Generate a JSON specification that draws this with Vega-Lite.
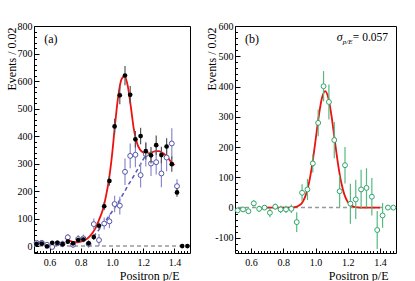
{
  "$schema": "https://vega.github.io/schema/vega-lite/v6.json",
  "padding": {"left": 4, "top": 20, "right": 5, "bottom": 5},
  "spacing": 12,
  "config": {
    "font": "Liberation Serif",
    "view": {"stroke": "black", "strokeWidth": 1},
    "axis": {
      "domain": false, "grid": false,
      "labelFont": "Liberation Serif", "labelFontSize": 10, "labelColor": "black",
      "titleFont": "Liberation Serif", "titleFontSize": 12, "titleFontWeight": "normal", "titleColor": "black",
      "tickColor": "black", "tickWidth": 1
    }
  },
  "datasets": {
    "zero": [{"v": 0}],
    "black": [
      {"pe": 0.5167, "n": 8, "err": 6}, {"pe": 0.55, "n": 9, "err": 6}, {"pe": 0.5833, "n": -1, "err": 5},
      {"pe": 0.6167, "n": 12, "err": 6}, {"pe": 0.65, "n": 12, "err": 6}, {"pe": 0.6833, "n": 7, "err": 6},
      {"pe": 0.7167, "n": 16, "err": 7}, {"pe": 0.75, "n": 10, "err": 7}, {"pe": 0.7833, "n": 22, "err": 8},
      {"pe": 0.8167, "n": 24, "err": 8}, {"pe": 0.85, "n": 10, "err": 8}, {"pe": 0.8833, "n": 33, "err": 10},
      {"pe": 0.9167, "n": 74, "err": 12}, {"pe": 0.95, "n": 145, "err": 15}, {"pe": 0.9833, "n": 237, "err": 18},
      {"pe": 1.0167, "n": 435, "err": 28}, {"pe": 1.05, "n": 548, "err": 32}, {"pe": 1.0833, "n": 620, "err": 35},
      {"pe": 1.1167, "n": 550, "err": 32}, {"pe": 1.15, "n": 388, "err": 30}, {"pe": 1.1833, "n": 400, "err": 30},
      {"pe": 1.2167, "n": 345, "err": 30}, {"pe": 1.25, "n": 330, "err": 30}, {"pe": 1.2833, "n": 367, "err": 35},
      {"pe": 1.3167, "n": 331, "err": 30}, {"pe": 1.35, "n": 362, "err": 30}, {"pe": 1.3833, "n": 298, "err": 28},
      {"pe": 1.4167, "n": 195, "err": 16}, {"pe": 1.45, "n": 0, "err": 3}, {"pe": 1.4833, "n": 0, "err": 3}
    ],
    "open": [
      {"pe": 0.5167, "n": 12, "err": 10}, {"pe": 0.55, "n": 12, "err": 10}, {"pe": 0.5833, "n": 5, "err": 10},
      {"pe": 0.6167, "n": -3, "err": 10}, {"pe": 0.65, "n": 10, "err": 10}, {"pe": 0.6833, "n": 8, "err": 12},
      {"pe": 0.7167, "n": 32, "err": 12}, {"pe": 0.75, "n": 5, "err": 12}, {"pe": 0.7833, "n": 26, "err": 14},
      {"pe": 0.8167, "n": 28, "err": 14}, {"pe": 0.85, "n": 8, "err": 14}, {"pe": 0.8833, "n": 80, "err": 20},
      {"pe": 0.9167, "n": 22, "err": 22}, {"pe": 0.95, "n": 82, "err": 22}, {"pe": 0.9833, "n": 90, "err": 25},
      {"pe": 1.0167, "n": 153, "err": 30}, {"pe": 1.05, "n": 147, "err": 32}, {"pe": 1.0833, "n": 270, "err": 48},
      {"pe": 1.1167, "n": 328, "err": 45}, {"pe": 1.15, "n": 332, "err": 45}, {"pe": 1.1833, "n": 258, "err": 45},
      {"pe": 1.2167, "n": 334, "err": 45}, {"pe": 1.25, "n": 300, "err": 45}, {"pe": 1.2833, "n": 305, "err": 45},
      {"pe": 1.3167, "n": 264, "err": 50}, {"pe": 1.35, "n": 322, "err": 50}, {"pe": 1.3833, "n": 373, "err": 55},
      {"pe": 1.4167, "n": 218, "err": 25}
    ],
    "fitA": [
      {"pe": 0.70, "n": 30}, {"pe": 0.72, "n": 22}, {"pe": 0.74, "n": 17}, {"pe": 0.76, "n": 14}, {"pe": 0.78, "n": 14},
      {"pe": 0.80, "n": 16}, {"pe": 0.82, "n": 20}, {"pe": 0.84, "n": 27}, {"pe": 0.86, "n": 37}, {"pe": 0.88, "n": 52},
      {"pe": 0.90, "n": 72}, {"pe": 0.92, "n": 100}, {"pe": 0.94, "n": 130}, {"pe": 0.96, "n": 178}, {"pe": 0.98, "n": 240},
      {"pe": 1.00, "n": 330}, {"pe": 1.02, "n": 445}, {"pe": 1.04, "n": 545}, {"pe": 1.06, "n": 605}, {"pe": 1.08, "n": 618},
      {"pe": 1.10, "n": 585}, {"pe": 1.12, "n": 510}, {"pe": 1.14, "n": 425}, {"pe": 1.16, "n": 375}, {"pe": 1.18, "n": 350},
      {"pe": 1.20, "n": 340}, {"pe": 1.22, "n": 337}, {"pe": 1.24, "n": 338}, {"pe": 1.26, "n": 342}, {"pe": 1.28, "n": 345},
      {"pe": 1.30, "n": 345}, {"pe": 1.32, "n": 340}, {"pe": 1.34, "n": 332}, {"pe": 1.36, "n": 320}, {"pe": 1.38, "n": 305},
      {"pe": 1.40, "n": 295}
    ],
    "bkgA": [
      {"pe": 0.88, "n": 35}, {"pe": 0.90, "n": 48}, {"pe": 0.95, "n": 85}, {"pe": 1.00, "n": 125}, {"pe": 1.05, "n": 168},
      {"pe": 1.10, "n": 218}, {"pe": 1.15, "n": 265}, {"pe": 1.20, "n": 315}, {"pe": 1.22, "n": 335}
    ],
    "green": [
      {"pe": 0.5167, "n": -9, "err": 8}, {"pe": 0.55, "n": -6, "err": 8}, {"pe": 0.5833, "n": -12, "err": 8},
      {"pe": 0.6167, "n": 14, "err": 10}, {"pe": 0.65, "n": -4, "err": 10}, {"pe": 0.6833, "n": 0, "err": 8},
      {"pe": 0.7167, "n": -17, "err": 15}, {"pe": 0.75, "n": 3, "err": 10}, {"pe": 0.7833, "n": -6, "err": 12},
      {"pe": 0.8167, "n": -6, "err": 12}, {"pe": 0.85, "n": -4, "err": 14}, {"pe": 0.8833, "n": -48, "err": 33},
      {"pe": 0.9167, "n": 49, "err": 28}, {"pe": 0.95, "n": 60, "err": 35}, {"pe": 0.9833, "n": 146, "err": 30},
      {"pe": 1.0167, "n": 280, "err": 44}, {"pe": 1.05, "n": 401, "err": 50}, {"pe": 1.0833, "n": 349, "err": 58},
      {"pe": 1.1167, "n": 223, "err": 60}, {"pe": 1.15, "n": 54, "err": 53}, {"pe": 1.1833, "n": 140, "err": 60},
      {"pe": 1.2167, "n": 13, "err": 66}, {"pe": 1.25, "n": 27, "err": 65}, {"pe": 1.2833, "n": 60, "err": 65},
      {"pe": 1.3167, "n": 65, "err": 65}, {"pe": 1.35, "n": 36, "err": 62}, {"pe": 1.3833, "n": -74, "err": 63},
      {"pe": 1.4167, "n": -26, "err": 41}, {"pe": 1.45, "n": 0, "err": 4}, {"pe": 1.4833, "n": 0, "err": 4}
    ],
    "fitB": [
      {"pe": 0.70, "n": 0}, {"pe": 0.80, "n": 0}, {"pe": 0.84, "n": 0.2}, {"pe": 0.86, "n": 0.8}, {"pe": 0.88, "n": 2.6},
      {"pe": 0.90, "n": 7.5}, {"pe": 0.92, "n": 18.8}, {"pe": 0.94, "n": 42}, {"pe": 0.96, "n": 83}, {"pe": 0.98, "n": 144},
      {"pe": 1.00, "n": 221}, {"pe": 1.02, "n": 301}, {"pe": 1.04, "n": 362}, {"pe": 1.06, "n": 385}, {"pe": 1.08, "n": 362},
      {"pe": 1.10, "n": 301}, {"pe": 1.12, "n": 221}, {"pe": 1.14, "n": 144}, {"pe": 1.16, "n": 83}, {"pe": 1.18, "n": 42},
      {"pe": 1.20, "n": 19}, {"pe": 1.22, "n": 7.5}, {"pe": 1.24, "n": 2.6}, {"pe": 1.26, "n": 0.8}, {"pe": 1.28, "n": 0.2},
      {"pe": 1.32, "n": 0}, {"pe": 1.40, "n": 0}
    ],
    "labA": [{"pe": 0.565, "n": 738, "t": "(a)"}],
    "labB": [{"pe": 0.562, "n": 543, "t": "(b)"}],
    "sig": [{"pe": 1.132, "n": 549, "t": "σ"}],
    "sigSub": [{"pe": 1.1696, "n": 539, "t": "p/E"}],
    "sigVal": [{"pe": 1.2317, "n": 549, "t": "= 0.057"}]
  },
  "hconcat": [
    {
      "width": 156, "height": 227,
      "resolve": {"axis": {"x": "independent", "y": "independent"}},
      "layer": [
        {
          "data": {"name": "zero"},
          "mark": {"type": "rule", "color": "#999999", "strokeDash": [4, 3], "strokeWidth": 1.5},
          "encoding": {
            "y": {"field": "v", "type": "quantitative", "scale": {"domain": [-25, 800], "nice": false, "zero": false},
              "axis": {"orient": "left", "values": [-20,20,40,60,80,120,140,160,180,220,240,260,280,320,340,360,380,420,440,460,480,520,540,560,580,620,640,660,680,720,740,760,780], "labels": false, "tickSize": -2.5, "title": null}}
          }
        },
        {
          "data": {"name": "bkgA"},
          "mark": {"type": "line", "color": "#5555bb", "strokeDash": [4, 3], "strokeWidth": 1.5, "interpolate": "monotone"},
          "encoding": {
            "x": {"field": "pe", "type": "quantitative", "scale": {"domain": [0.5, 1.5], "nice": false, "zero": false},
              "axis": {"orient": "bottom", "values": [0.52,0.54,0.56,0.58,0.62,0.64,0.66,0.68,0.7,0.72,0.74,0.76,0.78,0.82,0.84,0.86,0.88,0.9,0.92,0.94,0.96,0.98,1.02,1.04,1.06,1.08,1.1,1.12,1.14,1.16,1.18,1.22,1.24,1.26,1.28,1.3,1.32,1.34,1.36,1.38,1.42,1.44,1.46,1.48], "labels": false, "tickSize": -2.5, "title": null}},
            "y": {"field": "n", "type": "quantitative", "scale": {"domain": [-25, 800], "nice": false, "zero": false}, "axis": null}
          }
        },
        {
          "data": {"name": "fitA"},
          "mark": {"type": "line", "color": "#ee1111", "strokeWidth": 1.8, "interpolate": "monotone"},
          "encoding": {
            "x": {"field": "pe", "type": "quantitative", "scale": {"domain": [0.5, 1.5], "nice": false, "zero": false}, "axis": null},
            "y": {"field": "n", "type": "quantitative", "scale": {"domain": [-25, 800], "nice": false, "zero": false}, "axis": null}
          }
        },
        {
          "data": {"name": "open"},
          "mark": {"type": "errorbar", "color": "#8a8acc", "thickness": 1.2},
          "encoding": {
            "x": {"field": "pe", "type": "quantitative", "scale": {"domain": [0.5, 1.5], "nice": false, "zero": false}, "axis": null},
            "y": {"field": "n", "type": "quantitative", "scale": {"domain": [-25, 800], "nice": false, "zero": false}, "axis": null},
            "yError": {"field": "err"}
          }
        },
        {
          "data": {"name": "open"},
          "mark": {"type": "point", "filled": false, "fill": "white", "stroke": "#5555aa", "strokeWidth": 1, "size": 24, "opacity": 1},
          "encoding": {
            "x": {"field": "pe", "type": "quantitative", "scale": {"domain": [0.5, 1.5], "nice": false, "zero": false}, "axis": null},
            "y": {"field": "n", "type": "quantitative", "scale": {"domain": [-25, 800], "nice": false, "zero": false}, "axis": null}
          }
        },
        {
          "data": {"name": "black"},
          "mark": {"type": "errorbar", "color": "#555555", "thickness": 1.2},
          "encoding": {
            "x": {"field": "pe", "type": "quantitative", "scale": {"domain": [0.5, 1.5], "nice": false, "zero": false}, "axis": null},
            "y": {"field": "n", "type": "quantitative", "scale": {"domain": [-25, 800], "nice": false, "zero": false}, "axis": null},
            "yError": {"field": "err"}
          }
        },
        {
          "data": {"name": "black"},
          "mark": {"type": "point", "filled": true, "color": "black", "size": 22, "opacity": 1},
          "encoding": {
            "x": {"field": "pe", "type": "quantitative", "scale": {"domain": [0.5, 1.5], "nice": false, "zero": false},
              "axis": {"orient": "bottom", "values": [0.6, 0.8, 1.0, 1.2, 1.4], "format": ".1f", "tickSize": -5, "labelPadding": 9,
                "title": "Positron p/E", "titleX": 145, "titleY": 26, "titleAlign": "right", "titleBaseline": "alphabetic"}},
            "y": {"field": "n", "type": "quantitative", "scale": {"domain": [-25, 800], "nice": false, "zero": false},
              "axis": {"orient": "left", "values": [0, 100, 200, 300, 400, 500, 600, 700, 800], "tickSize": -5, "labelPadding": 7,
                "title": "Events / 0.02", "titleX": -23, "titleY": 1, "titleAngle": -90, "titleAlign": "right", "titleBaseline": "middle"}}
          }
        },
        {
          "data": {"name": "labA"},
          "mark": {"type": "text", "align": "left", "baseline": "alphabetic", "fontSize": 12, "font": "Liberation Serif", "color": "black"},
          "encoding": {
            "x": {"field": "pe", "type": "quantitative", "scale": {"domain": [0.5, 1.5], "nice": false, "zero": false}, "axis": null},
            "y": {"field": "n", "type": "quantitative", "scale": {"domain": [-25, 800], "nice": false, "zero": false}, "axis": null},
            "text": {"field": "t"}
          }
        }
      ]
    },
    {
      "width": 161, "height": 227,
      "resolve": {"axis": {"x": "independent", "y": "independent"}},
      "layer": [
        {
          "data": {"name": "zero"},
          "mark": {"type": "rule", "color": "#999999", "strokeDash": [4, 3], "strokeWidth": 1.5},
          "encoding": {
            "y": {"field": "v", "type": "quantitative", "scale": {"domain": [-150, 600], "nice": false, "zero": false},
              "axis": {"orient": "left", "values": [-140,-120,-80,-60,-40,-20,20,40,60,80,120,140,160,180,220,240,260,280,320,340,360,380,420,440,460,480,520,540,560,580], "labels": false, "tickSize": -2.5, "title": null}}
          }
        },
        {
          "data": {"name": "fitB"},
          "mark": {"type": "line", "color": "#ee1111", "strokeWidth": 1.8, "interpolate": "monotone"},
          "encoding": {
            "x": {"field": "pe", "type": "quantitative", "scale": {"domain": [0.5, 1.5], "nice": false, "zero": false},
              "axis": {"orient": "bottom", "values": [0.52,0.54,0.56,0.58,0.62,0.64,0.66,0.68,0.7,0.72,0.74,0.76,0.78,0.82,0.84,0.86,0.88,0.9,0.92,0.94,0.96,0.98,1.02,1.04,1.06,1.08,1.1,1.12,1.14,1.16,1.18,1.22,1.24,1.26,1.28,1.3,1.32,1.34,1.36,1.38,1.42,1.44,1.46,1.48], "labels": false, "tickSize": -2.5, "title": null}},
            "y": {"field": "n", "type": "quantitative", "scale": {"domain": [-150, 600], "nice": false, "zero": false}, "axis": null}
          }
        },
        {
          "data": {"name": "green"},
          "mark": {"type": "errorbar", "color": "#55bb80", "thickness": 1.2},
          "encoding": {
            "x": {"field": "pe", "type": "quantitative", "scale": {"domain": [0.5, 1.5], "nice": false, "zero": false}, "axis": null},
            "y": {"field": "n", "type": "quantitative", "scale": {"domain": [-150, 600], "nice": false, "zero": false}, "axis": null},
            "yError": {"field": "err"}
          }
        },
        {
          "data": {"name": "green"},
          "mark": {"type": "point", "filled": false, "fill": "white", "stroke": "#2ea86a", "strokeWidth": 1, "size": 24, "opacity": 1},
          "encoding": {
            "x": {"field": "pe", "type": "quantitative", "scale": {"domain": [0.5, 1.5], "nice": false, "zero": false},
              "axis": {"orient": "bottom", "values": [0.6, 0.8, 1.0, 1.2, 1.4], "format": ".1f", "tickSize": -5, "labelPadding": 9,
                "title": "Positron p/E", "titleX": 153, "titleY": 26, "titleAlign": "right", "titleBaseline": "alphabetic"}},
            "y": {"field": "n", "type": "quantitative", "scale": {"domain": [-150, 600], "nice": false, "zero": false},
              "axis": {"orient": "left", "values": [-100, 0, 100, 200, 300, 400, 500, 600], "tickSize": -5, "labelPadding": 7,
                "labelExpr": "datum.value < 0 ? '-' + abs(datum.value) : datum.label",
                "title": "Events / 0.02", "titleX": -24, "titleY": 1, "titleAngle": -90, "titleAlign": "right", "titleBaseline": "middle"}}
          }
        },
        {
          "data": {"name": "labB"},
          "mark": {"type": "text", "align": "left", "baseline": "alphabetic", "fontSize": 12, "font": "Liberation Serif", "color": "black"},
          "encoding": {
            "x": {"field": "pe", "type": "quantitative", "scale": {"domain": [0.5, 1.5], "nice": false, "zero": false}, "axis": null},
            "y": {"field": "n", "type": "quantitative", "scale": {"domain": [-150, 600], "nice": false, "zero": false}, "axis": null},
            "text": {"field": "t"}
          }
        },
        {
          "data": {"name": "sig"},
          "mark": {"type": "text", "align": "left", "baseline": "alphabetic", "fontSize": 12, "fontStyle": "italic", "font": "Liberation Serif", "color": "black"},
          "encoding": {
            "x": {"field": "pe", "type": "quantitative", "scale": {"domain": [0.5, 1.5], "nice": false, "zero": false}, "axis": null},
            "y": {"field": "n", "type": "quantitative", "scale": {"domain": [-150, 600], "nice": false, "zero": false}, "axis": null},
            "text": {"field": "t"}
          }
        },
        {
          "data": {"name": "sigSub"},
          "mark": {"type": "text", "align": "left", "baseline": "alphabetic", "fontSize": 7, "fontStyle": "italic", "font": "Liberation Serif", "color": "black"},
          "encoding": {
            "x": {"field": "pe", "type": "quantitative", "scale": {"domain": [0.5, 1.5], "nice": false, "zero": false}, "axis": null},
            "y": {"field": "n", "type": "quantitative", "scale": {"domain": [-150, 600], "nice": false, "zero": false}, "axis": null},
            "text": {"field": "t"}
          }
        },
        {
          "data": {"name": "sigVal"},
          "mark": {"type": "text", "align": "left", "baseline": "alphabetic", "fontSize": 11.5, "font": "Liberation Serif", "color": "black"},
          "encoding": {
            "x": {"field": "pe", "type": "quantitative", "scale": {"domain": [0.5, 1.5], "nice": false, "zero": false}, "axis": null},
            "y": {"field": "n", "type": "quantitative", "scale": {"domain": [-150, 600], "nice": false, "zero": false}, "axis": null},
            "text": {"field": "t"}
          }
        }
      ]
    }
  ]
}
